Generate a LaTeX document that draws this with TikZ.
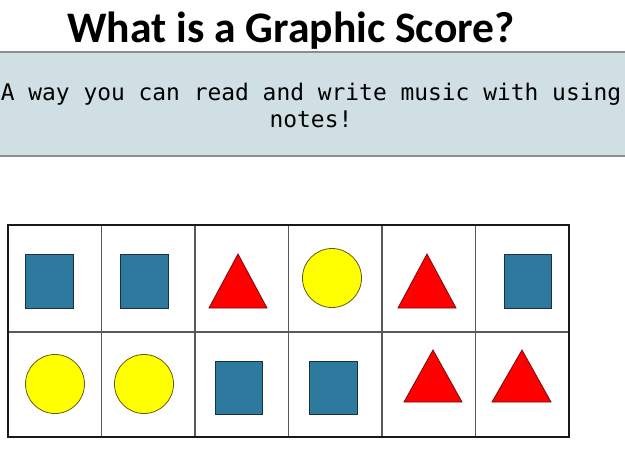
\documentclass[tikz,border=0pt]{standalone}
\usepackage{fontspec}
\newfontfamily\titlefont{Carlito}
\newfontfamily\monofont{DejaVu Sans Mono}
\definecolor{boxfill}{RGB}{208,223,227}
\definecolor{boxline}{RGB}{140,140,140}
\definecolor{sqblue}{RGB}{46,122,158}
\definecolor{sqedge}{RGB}{25,50,65}
\definecolor{trired}{RGB}{255,0,0}
\definecolor{triedge}{RGB}{120,10,10}
\definecolor{circyellow}{RGB}{255,255,0}
\definecolor{circedge}{RGB}{100,90,20}
\tikzset{
  sq/.style={draw=sqedge, fill=sqblue, line width=0.8pt},
  tri/.style={draw=triedge, fill=trired, line width=0.8pt, line join=miter},
  circ/.style={draw=circedge, fill=circyellow, line width=0.8pt},
  inner/.style={draw=black!65, line width=1.2pt},
  outer/.style={draw=black!90, line width=1.8pt},
}
\begin{document}
\begin{tikzpicture}[x=1pt,y=-1pt]
\useasboundingbox (0,0) rectangle (625,469);
\fill[white] (0,0) rectangle (625,469);
% title
\node[font=\titlefont\bfseries\fontsize{43.6}{48}\selectfont, anchor=base, inner sep=0pt] (title) at (291,42) {What is a Graphic Score?};
% definition box
\fill[boxfill] (-2,52) rectangle (627,156);
\draw[boxline, line width=1.5pt] (-2,52) -- (627,52);
\draw[boxline, line width=1.5pt] (-2,156) -- (627,156);
\node[font=\monofont\fontsize{22.9}{27}\selectfont, anchor=base, inner sep=0pt] (line1) at (311,100) {A way you can read and write music with using};
\node[font=\monofont\fontsize{22.9}{27}\selectfont, anchor=base, inner sep=0pt] (line2) at (311,127) {notes!};
% grid
\foreach \x in {101.5,195,288.5,382,475.5} \draw[inner] (\x,225) -- (\x,437);
\draw[inner] (8,332) -- (569,332);
\draw[outer] (8,225) rectangle (569,437);
% row 1
\draw[sq] (25,254) rectangle (73,308);
\draw[sq] (120,254) rectangle (168,308);
\draw[tri] (209,308) -- (238,254) -- (267,308) -- cycle;
\draw[circ] (332,278) circle (29.5);
\draw[tri] (398,308) -- (427,254) -- (456,308) -- cycle;
\draw[sq] (504,254) rectangle (551,308);
% row 2
\draw[circ] (55,384) circle (29.5);
\draw[circ] (144,384) circle (29.5);
\draw[sq] (215,361) rectangle (262,414);
\draw[sq] (309,361) rectangle (357,414);
\draw[tri] (404,402) -- (433,350) -- (462,402) -- cycle;
\draw[tri] (492,402) -- (522,350) -- (551,402) -- cycle;
\end{tikzpicture}
\end{document}
